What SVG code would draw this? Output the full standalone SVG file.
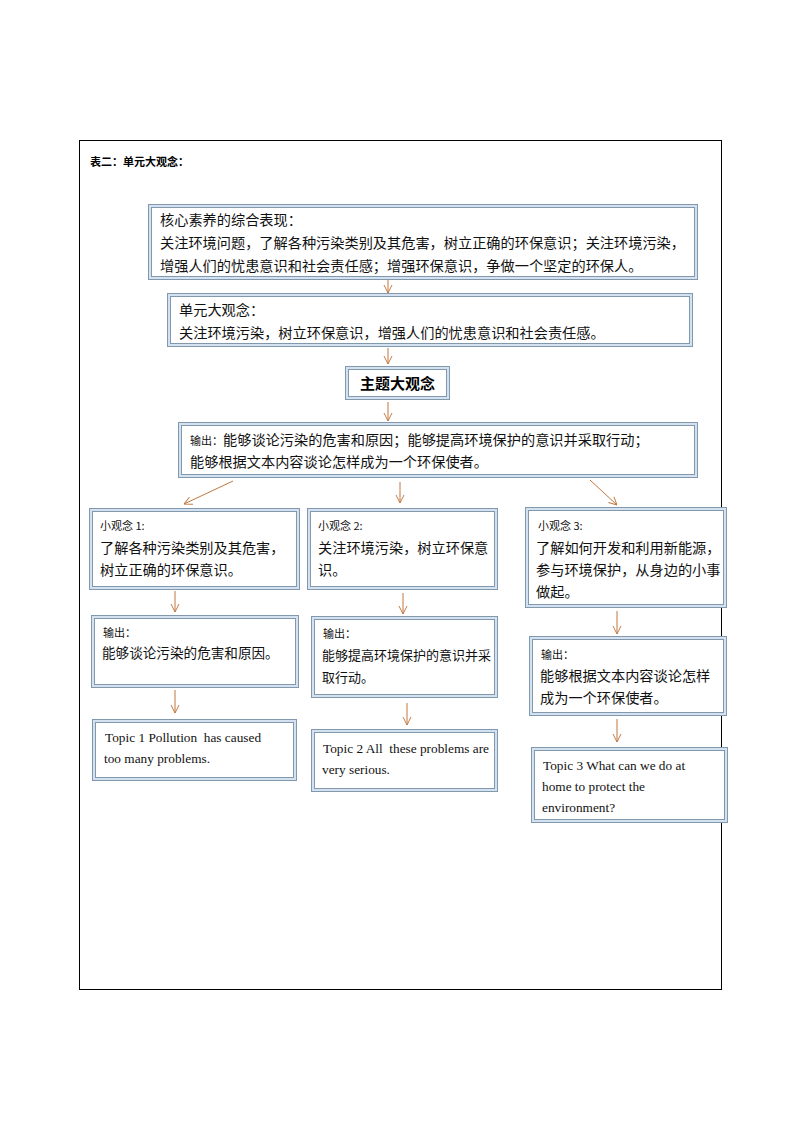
<svg xmlns="http://www.w3.org/2000/svg" width="794" height="1123" viewBox="0 0 794 1123">
<defs>
<marker id="ah" viewBox="0 0 10 10" refX="10" refY="5" markerWidth="8" markerHeight="10" markerUnits="userSpaceOnUse" orient="auto">
<path d="M0,0 L10,5 L0,10" fill="none" stroke="#c0773f" stroke-width="1.2"/>
</marker>
</defs>
<style>
.o{fill:#d3e1f0;stroke:#8298ac;stroke-width:1}
.i{fill:#ffffff;stroke:#8298ac;stroke-width:1}
.t{font-family:"Noto Sans CJK SC","Liberation Sans",sans-serif;font-size:14.2px;fill:#111}
.n{font-size:13px}
.s{font-family:"Noto Sans CJK SC","Liberation Serif",serif;font-size:11px;fill:#111}
.e{font-family:"Liberation Serif",serif;font-size:13.3px;fill:#111}
.c line{stroke:#c0773f;stroke-width:1;marker-end:url(#ah)}
</style>
<rect width="794" height="1123" fill="#fff"/>
<rect x="79.5" y="140.5" width="642" height="849" fill="none" stroke="#000" stroke-width="1"/>
<text x="90" y="166" font-family="Noto Sans CJK SC,sans-serif" font-size="11" font-weight="bold" fill="#000">表二：单元大观念：</text>

<g id="core">
<rect class="o" x="148.5" y="204.5" width="549" height="75"/>
<rect class="i" x="151.5" y="207.5" width="543" height="69"/>
<text class="t" x="160" y="225">核心素养的综合表现：</text>
<text class="t" x="160" y="248">关注环境问题，了解各种污染类别及其危害，树立正确的环保意识；关注环境污染，</text>
<text class="t" x="160" y="271">增强人们的忧患意识和社会责任感；增强环保意识，争做一个坚定的环保人。</text>
</g>
<g id="unit">
<rect class="o" x="167.5" y="293.5" width="525" height="53"/>
<rect class="i" x="170.5" y="296.5" width="519" height="47"/>
<text class="t" x="179" y="315">单元大观念：</text>
<text class="t" x="179" y="338">关注环境污染，树立环保意识，增强人们的忧患意识和社会责任感。</text>
</g>
<g id="theme">
<rect class="o" x="345.5" y="366.5" width="104" height="33"/>
<rect class="i" x="348.5" y="369.5" width="98" height="27"/>
<text x="397.5" y="389" text-anchor="middle" font-family="Noto Sans CJK SC,sans-serif" font-size="15" font-weight="bold" fill="#000">主题大观念</text>
</g>
<g id="output">
<rect class="o" x="178.5" y="422.5" width="519" height="55"/>
<rect class="i" x="181.5" y="425.5" width="513" height="49"/>
<text x="190" y="445"><tspan class="s">输出：</tspan><tspan class="t">能够谈论污染的危害和原因；能够提高环境保护的意识并采取行动；</tspan></text>
<text class="t" x="190" y="467">能够根据文本内容谈论怎样成为一个环保使者。</text>
</g>

<g id="idea1">
<rect class="o" x="89.5" y="508.5" width="210" height="81"/>
<rect class="i" x="92.5" y="511.5" width="204" height="75"/>
<text class="s" x="100" y="530">小观念 1:</text>
<text class="t" x="100" y="553">了解各种污染类别及其危害，</text>
<text class="t" x="100" y="575">树立正确的环保意识。</text>
</g>
<g id="idea2">
<rect class="o" x="307.5" y="508.5" width="190" height="81"/>
<rect class="i" x="310.5" y="511.5" width="184" height="75"/>
<text class="s" x="318" y="530">小观念 2:</text>
<text class="t" x="318" y="553">关注环境污染，树立环保意</text>
<text class="t" x="318" y="575">识。</text>
</g>
<g id="idea3">
<rect class="o" x="525.5" y="507.5" width="201" height="100"/>
<rect class="i" x="528.5" y="510.5" width="195" height="94"/>
<text class="s" x="538" y="530">小观念 3:</text>
<text class="t" x="536" y="553">了解如何开发和利用新能源，</text>
<text class="t" x="536" y="575">参与环境保护，从身边的小事</text>
<text class="t" x="536" y="597">做起。</text>
</g>

<g id="out1">
<rect class="o" x="91.5" y="615.5" width="207" height="72"/>
<rect class="i" x="94.5" y="618.5" width="201" height="66"/>
<text class="s" x="103" y="637">输出：</text>
<text class="t" x="102" y="658" style="font-size:13.6px">能够谈论污染的危害和原因。</text>
</g>
<g id="out2">
<rect class="o" x="311.5" y="616.5" width="186" height="81"/>
<rect class="i" x="314.5" y="619.5" width="180" height="75"/>
<text class="s" x="323" y="638">输出：</text>
<text class="t n" x="322" y="660">能够提高环境保护的意识并采</text>
<text class="t n" x="322" y="682">取行动。</text>
</g>
<g id="out3">
<rect class="o" x="529.5" y="636.5" width="197" height="79"/>
<rect class="i" x="532.5" y="639.5" width="191" height="73"/>
<text class="s" x="541" y="659">输出：</text>
<text class="t" x="540" y="681">能够根据文本内容谈论怎样</text>
<text class="t" x="540" y="703">成为一个环保使者。</text>
</g>

<g id="topic1">
<rect class="o" x="92.5" y="719.5" width="204" height="61"/>
<rect class="i" x="95.5" y="722.5" width="198" height="55"/>
<text class="e" x="105" y="742" xml:space="preserve">Topic 1 Pollution  has caused</text>
<text class="e" x="104" y="763">too many problems.</text>
</g>
<g id="topic2">
<rect class="o" x="311.5" y="729.5" width="186" height="62"/>
<rect class="i" x="314.5" y="732.5" width="180" height="56"/>
<text class="e" x="323" y="753" xml:space="preserve">Topic 2 All  these problems are</text>
<text class="e" x="322" y="774">very serious.</text>
</g>
<g id="topic3">
<rect class="o" x="531.5" y="747.5" width="196" height="75"/>
<rect class="i" x="534.5" y="750.5" width="190" height="69"/>
<text class="e" x="543" y="770">Topic 3 What can we do at</text>
<text class="e" x="542" y="791">home to protect the</text>
<text class="e" x="542" y="812">environment?</text>
</g>

<g class="c" id="connectors">
<line x1="388" y1="280" x2="388" y2="293"/>
<line x1="388" y1="348" x2="388" y2="364"/>
<line x1="388" y1="402" x2="388" y2="421"/>
<line x1="233" y1="481" x2="184" y2="504"/>
<line x1="400" y1="482" x2="400" y2="503"/>
<line x1="590" y1="480" x2="617" y2="505"/>
<line x1="175" y1="591" x2="175" y2="612"/>
<line x1="403" y1="593" x2="403" y2="614"/>
<line x1="617" y1="611" x2="617" y2="634"/>
<line x1="175" y1="690" x2="175" y2="713"/>
<line x1="407" y1="703" x2="407" y2="725"/>
<line x1="617" y1="719" x2="617" y2="742"/>
</g>
</svg>
